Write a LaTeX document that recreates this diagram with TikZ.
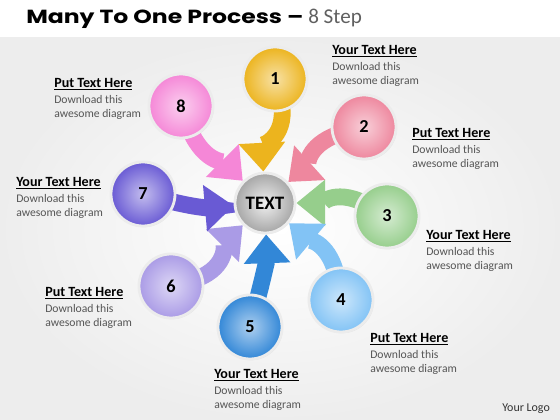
\documentclass[tikz,border=0pt]{standalone}
\usepackage{fontspec}
\setmainfont{Carlito}
\newfontfamily\titlefont[FakeStretch=1.24]{Poppins}
\usetikzlibrary{arrows.meta,shadows}

\definecolor{goldball}{RGB}{236,180,30}
\definecolor{roseball}{RGB}{238,135,158}
\definecolor{greenball}{RGB}{150,206,140}
\definecolor{skyball}{RGB}{130,195,245}
\definecolor{blueball}{RGB}{50,135,215}
\definecolor{lilacball}{RGB}{170,155,230}
\definecolor{indigoball}{RGB}{105,90,212}
\definecolor{pinkball}{RGB}{245,135,215}
\definecolor{notegray}{RGB}{85,85,85}

\pgfdeclarelayer{back}
\pgfsetlayers{back,main}

\newcommand{\notehead}[1]{{\fontsize{10}{11}\selectfont\bfseries\color{black}\underline{#1}}}

\begin{document}
\begin{tikzpicture}[x=0.025cm,y=0.025cm,
    ball/.style={circle,minimum size=1.6cm,inner sep=0pt,draw=white!85!gray,line width=2pt,
        inner color=#1!40!white,outer color=#1,font=\fontsize{13}{13}\selectfont\bfseries,
        drop shadow={opacity=0.2,shadow xshift=0.6pt,shadow yshift=-0.8pt}},
    hub/.style={circle,minimum size=1.5cm,inner sep=0pt,draw=white!85!gray,line width=2pt,
        inner color=gray!12,outer color=gray!70,font=\fontsize{13.5}{14}\selectfont\bfseries,
        drop shadow={opacity=0.2,shadow xshift=0.6pt,shadow yshift=-0.8pt}},
    flow/.style={draw=#1,line width=0.42cm,-{Triangle[width=1.12cm,length=0.72cm]},
        shorten <=-0.35cm},
    note/.style={anchor=base west,align=left,inner sep=0pt,font=\fontsize{8.3}{10}\selectfont,
        text=notegray}]
    \useasboundingbox (0,0) rectangle (560,420);

    \node[anchor=base west,inner sep=0pt,font=\titlefont\fontsize{13.5}{14}\selectfont\bfseries] (title) at (26,396) {Many To One Process –};
    \node[anchor=base west,inner sep=0pt,font=\fontsize{15}{15}\selectfont,text=gray!75!black] (steps) at (308,396) {8 Step};

    \node[hub] (c) at (265,217) {TEXT};
    \node[ball=goldball] (s1) at (275,341) {1};
    \node[ball=roseball] (s2) at (364,293) {2};
    \node[ball=greenball] (s3) at (387,204) {3};
    \node[ball=skyball] (s4) at (341,120) {4};
    \node[ball=blueball] (s5) at (250,93) {5};
    \node[ball=lilacball] (s6) at (171,134) {6};
    \node[ball=indigoball] (s7) at (143,226) {7};
    \node[ball=pinkball] (s8) at (181,314) {8};

    \begin{pgfonlayer}{back}
        \shade[inner color=white,outer color=gray!14] (0,0) rectangle (560,383);
        \fill[white] (0,383) rectangle (560,420);
        \draw[flow=goldball] (s1) to[out=-75,in=93] (c);
        \draw[flow=roseball] (s2) to[out=195,in=42] (c);
        \draw[flow=greenball] (s3) to[out=150,in=0] (c);
        \draw[flow=skyball] (s4) to[out=100,in=-40] (c);
        \draw[flow=blueball] (s5) to[out=75,in=-88] (c);
        \draw[flow=lilacball] (s6) to[out=15,in=225] (c);
        \draw[flow=indigoball] (s7) to[out=-15,in=185] (c);
        \draw[flow=pinkball] (s8) to[out=-70,in=135] (c);
    \end{pgfonlayer}

    \node[note] (n1) at (332,335) {\notehead{Your Text Here}\\[2pt]Download this\\awesome diagram};
    \node[note] (n2) at (412,252) {\notehead{Put Text Here}\\[2pt]Download this\\awesome diagram};
    \node[note] (n3) at (426,150) {\notehead{Your Text Here}\\[2pt]Download this\\awesome diagram};
    \node[note] (n4) at (370,47) {\notehead{Put Text Here}\\[2pt]Download this\\awesome diagram};
    \node[note] (n5) at (214,11) {\notehead{Your Text Here}\\[2pt]Download this\\awesome diagram};
    \node[note] (n6) at (45,93) {\notehead{Put Text Here}\\[2pt]Download this\\awesome diagram};
    \node[note] (n7) at (16,203) {\notehead{Your Text Here}\\[2pt]Download this\\awesome diagram};
    \node[note] (n8) at (54,302) {\notehead{Put Text Here}\\[2pt]Download this\\awesome diagram};

    \node[anchor=base west,inner sep=0pt,font=\fontsize{8.5}{9}\selectfont,text=black!80] (logo) at (502,8) {Your Logo};
\end{tikzpicture}
\end{document}
